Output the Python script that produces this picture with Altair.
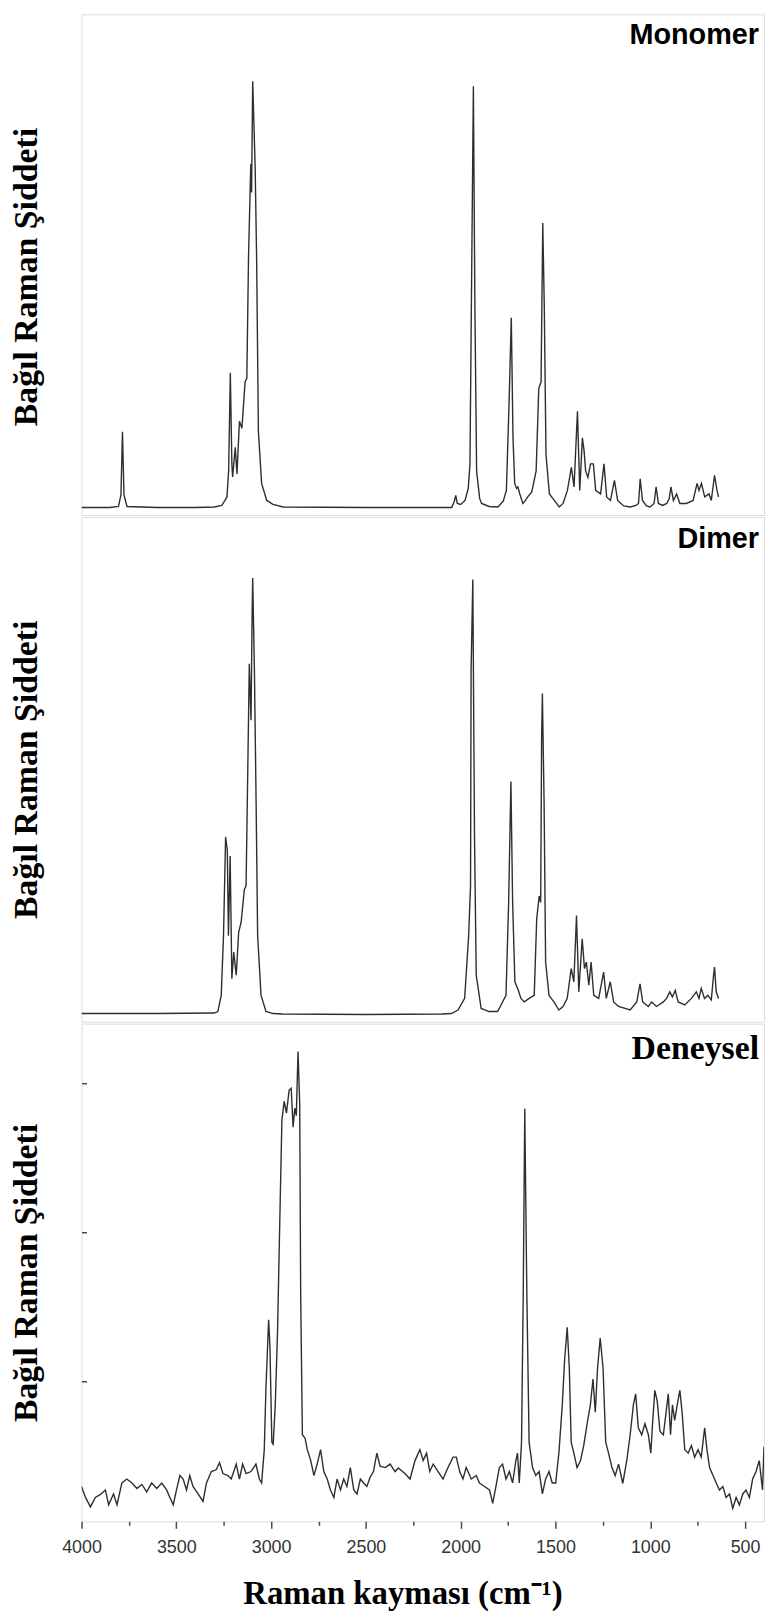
import altair as alt
import pandas as pd

# ---------------- data (wavenumber cm-1, relative intensity % of panel height) -------------
mono_x = [4000, 3850, 3805, 3792, 3784, 3776, 3760, 3600, 3400, 3300, 3260, 3245, 3233, 3224, 3215,
          3207, 3203, 3189, 3180, 3167, 3154, 3137, 3128, 3119, 3111, 3107, 3103, 3097, 3084, 3076,
          3067, 3050, 3023, 2990, 2937, 2500, 2100, 2047, 2033, 2026, 2018, 2000, 1977, 1960, 1951,
          1942, 1933, 1925, 1916, 1900, 1890, 1850, 1803, 1775, 1759, 1745, 1733, 1724, 1715, 1705,
          1698, 1689, 1672, 1660, 1646, 1625, 1602, 1588, 1576, 1567, 1559, 1550, 1532, 1506, 1480,
          1460, 1437, 1416, 1402, 1384, 1372, 1358, 1349, 1341, 1329, 1315, 1300, 1288, 1262, 1244,
          1230, 1210, 1189, 1172, 1140, 1105, 1075, 1062, 1053, 1041, 1020, 1001, 980, 969, 957,
          935, 913, 900, 891, 878, 861, 844, 809, 774, 753, 743, 730, 713, 690, 678, 661, 648, 640]
mono_y = [1.5, 1.5, 1.7, 4.0, 16.6, 4.0, 1.7, 1.5, 1.5, 1.6, 1.9, 2.8, 3.6, 8.8, 28.4,
          10.3, 7.6, 13.5, 8.2, 18.7, 17.3, 26.6, 27.3, 51.6, 64.2, 70.1, 64.4, 86.6, 69.4, 50.3,
          16.7, 6.3, 2.9, 2.1, 1.6, 1.5, 1.5, 1.5, 2.8, 3.9, 2.3, 2.1, 2.9, 5.3, 10.2,
          48.3, 85.6, 41.7, 8.8, 3.3, 2.3, 1.7, 1.6, 2.8, 4.9, 22.0, 39.4, 15.4, 6.3, 5.3,
          5.6, 4.3, 2.3, 2.8, 3.6, 4.6, 8.8, 25.3, 26.6, 58.3, 41.7, 12.1, 4.2, 2.9, 1.6,
          2.3, 4.9, 9.5, 5.6, 20.7, 4.9, 15.4, 12.8, 8.8, 7.5, 10.2, 10.2, 4.9, 4.2, 10.2,
          3.6, 2.9, 6.9, 2.9, 1.8, 1.6, 1.9, 2.3, 7.2, 2.9, 1.8, 1.6, 2.3, 5.6, 2.3,
          1.9, 2.3, 3.3, 5.6, 2.9, 4.2, 2.3, 2.3, 2.9, 6.3, 4.9, 6.3, 3.6, 4.2, 2.9, 7.9, 4.9, 3.6]

dim_x = [4000, 3600, 3300, 3281, 3263, 3251, 3240, 3231, 3225, 3216, 3207, 3197, 3184, 3171, 3158,
         3141, 3132, 3123, 3115, 3106, 3100, 3097, 3088, 3079, 3071, 3053, 3027, 2990, 2940, 2500,
         2100, 2049, 2014, 1979, 1958, 1948, 1945, 1936, 1927, 1918, 1892, 1850, 1805, 1761, 1747,
         1735, 1726, 1714, 1696, 1682, 1665, 1639, 1612, 1599, 1586, 1578, 1573, 1569, 1560, 1552,
         1534, 1508, 1482, 1460, 1438, 1417, 1403, 1389, 1377, 1359, 1347, 1337, 1324, 1312, 1298,
         1272, 1246, 1232, 1211, 1193, 1167, 1106, 1071, 1054, 1040, 1010, 993, 967, 931, 914,
         897, 883, 868, 853, 818, 783, 757, 743, 731, 714, 696, 678, 666, 661, 652, 640]
dim_y = [1.6, 1.6, 1.7, 2.0, 5.2, 17.0, 36.6, 34.0, 17.0, 32.8, 8.5, 13.8, 9.2, 17.7, 19.7,
         26.2, 26.9, 49.9, 70.9, 59.7, 80.7, 87.9, 69.6, 43.3, 17.0, 5.2, 2.0, 1.6, 1.5, 1.4,
         1.5, 1.6, 2.3, 4.6, 17.0, 26.9, 69.6, 87.6, 36.7, 9.2, 2.6, 2.0, 2.0, 5.2, 23.6,
         47.6, 23.6, 7.9, 6.2, 4.6, 3.9, 4.6, 5.2, 20.3, 24.9, 23.6, 56.4, 65.0, 43.3, 11.8,
         5.2, 3.9, 2.3, 3.0, 4.6, 10.5, 7.9, 21.0, 5.9, 16.4, 10.5, 11.8, 7.2, 11.8, 5.2,
         4.6, 9.8, 4.6, 7.9, 3.9, 3.0, 2.3, 3.9, 7.5, 3.9, 3.0, 3.9, 3.0, 3.9, 4.6,
         5.9, 4.9, 6.2, 3.9, 3.3, 4.6, 5.9, 4.6, 6.6, 4.6, 5.2, 4.3, 9.2, 10.8, 5.9, 4.6]

exp_x = [4000, 3979, 3953, 3927, 3900, 3874, 3857, 3831, 3813, 3787, 3761, 3734, 3708, 3682, 3656,
         3630, 3603, 3577, 3551, 3534, 3516, 3499, 3481, 3464, 3446, 3429, 3412, 3385, 3359, 3341,
         3315, 3289, 3272, 3254, 3228, 3210, 3184, 3167, 3150, 3132, 3106, 3080, 3062, 3050, 3036,
         3027, 3013, 3006, 2996, 2989, 2978, 2966, 2954, 2943, 2931, 2919, 2905, 2894, 2884, 2875,
         2867, 2858, 2849, 2844, 2835, 2821, 2809, 2791, 2774, 2757, 2739, 2722, 2704, 2687, 2669,
         2652, 2634, 2617, 2600, 2582, 2564, 2547, 2529, 2512, 2495, 2477, 2460, 2442, 2425, 2398,
         2372, 2346, 2329, 2294, 2267, 2241, 2215, 2198, 2180, 2163, 2145, 2119, 2093, 2067, 2040,
         2023, 2005, 1988, 1971, 1944, 1918, 1901, 1874, 1848, 1831, 1814, 1796, 1779, 1761, 1743,
         1726, 1709, 1700, 1691, 1679, 1670, 1662, 1651, 1639, 1621, 1604, 1586, 1569, 1552, 1534,
         1517, 1499, 1482, 1464, 1452, 1438, 1427, 1417, 1403, 1386, 1368, 1351, 1333, 1316, 1302,
         1290, 1278, 1264, 1249, 1235, 1220, 1202, 1185, 1167, 1145, 1124, 1106, 1089, 1077, 1063,
         1045, 1028, 1010, 997, 988, 976, 963, 949, 931, 919, 905, 893, 883, 871, 858,
         844, 832, 818, 800, 783, 766, 748, 731, 713, 701, 687, 669, 652, 635, 617,
         600, 582, 565, 547, 530, 512, 495, 477, 460, 442, 425, 408, 400]
exp_y = [7.0, 4.8, 2.9, 4.8, 5.4, 6.3, 3.3, 5.5, 3.3, 7.7, 8.5, 7.7, 6.6, 7.4, 5.9,
         7.7, 6.6, 7.7, 6.3, 4.8, 3.3, 6.3, 9.2, 8.5, 6.3, 9.2, 7.0, 5.5, 4.0, 7.7,
         10.0, 10.4, 11.8, 9.6, 9.2, 8.5, 11.5, 8.5, 11.5, 9.6, 10.0, 11.5, 8.5, 7.7, 14.4,
         27.0, 40.5, 35.0, 15.9, 15.5, 23.4, 38.2, 60.6, 80.6, 84.4, 82.0, 86.6, 87.0, 79.2, 83.0,
         81.5, 94.4, 83.8, 45.7, 17.4, 16.7, 14.4, 12.2, 9.2, 11.5, 14.4, 10.0, 8.5, 6.3, 4.8,
         8.5, 6.3, 8.5, 7.0, 10.8, 6.3, 5.5, 8.5, 7.7, 7.0, 8.9, 10.0, 13.7, 11.1, 10.8,
         11.5, 10.0, 10.7, 9.6, 8.5, 12.2, 14.4, 12.2, 13.7, 10.0, 11.5, 10.0, 8.5, 10.8, 12.9,
         12.9, 10.0, 8.5, 10.8, 8.5, 9.2, 7.7, 7.0, 6.3, 3.6, 7.0, 10.8, 11.5, 8.5, 10.0,
         7.7, 12.2, 13.7, 7.7, 15.9, 45.7, 82.9, 45.7, 15.9, 10.8, 9.2, 10.0, 5.5, 8.5, 10.0,
         7.7, 7.7, 13.7, 23.4, 32.3, 39.0, 30.8, 15.9, 13.7, 10.8, 12.2, 15.2, 19.6, 23.4, 28.6,
         21.9, 30.8, 36.8, 30.8, 15.9, 13.7, 10.8, 9.2, 11.5, 7.6, 12.2, 17.4, 23.4, 25.6, 18.8,
         17.4, 19.6, 17.4, 13.7, 19.6, 26.3, 24.1, 18.1, 17.4, 21.1, 25.6, 17.4, 23.4, 20.3, 23.4,
         26.3, 21.9, 14.4, 13.7, 15.2, 12.9, 14.4, 12.9, 18.8, 14.4, 10.8, 9.2, 7.7, 6.3, 7.0,
         4.8, 5.5, 2.6, 4.8, 3.3, 5.5, 6.3, 4.8, 8.5, 10.0, 12.2, 6.3, 15.0]

x_major = [4000, 3500, 3000, 2500, 2000, 1500, 1000, 500]
x_minor = [3750, 3250, 2750, 2250, 1750, 1250, 750]
exp_yticks = [28.2, 58.1, 88.0]

panel_names = ["Monomer", "Dimer", "Deneysel"]
y_title = "Bağıl Raman Şiddeti"
x_title = "Raman kayması (cm⁻¹)"

# ---------------- styling ----------------
W = 687
HEIGHTS = [504, 508, 501]
LINE_COLOR = "#2e2e2e"
FRAME = "#4a4a4a"
SERIF = "Liberation Serif"
SANS = "Liberation Sans"

xscale = alt.Scale(domain=[4000, 400], nice=False, zero=False)
yscale = alt.Scale(domain=[0, 100], nice=False, zero=False)


def y_axis(idx):
    kw = dict(title=y_title, labels=False, domain=False, grid=False,
              titleFont=SERIF, titleFontSize=34, titleFontWeight="bold",
              titleColor="black", titlePadding=38)
    if idx == 2:
        kw.update(ticks=True, values=exp_yticks, tickSize=5, offset=-5,
                  tickColor=FRAME, tickWidth=1.5)
    else:
        kw.update(ticks=False)
    if idx == 0:
        kw.update(titleY=HEIGHTS[0] / 2 + 12)
    return alt.Axis(**kw)


def x_axis():
    return alt.Axis(
        title=x_title, values=x_major + x_minor, format="d",
        labelExpr="datum.value % 500 === 0 ? datum.label : ''",
        labelFlush=False, grid=False, domain=False,
        tickColor=FRAME, tickWidth=1.5,
        tickSize={"condition": {"test": "datum.value % 500 === 0", "value": 7}, "value": 4},
        labelFont=SANS, labelFontSize=18, labelColor="#333333", labelPadding=10,
        titleFont=SERIF, titleFontSize=33, titleFontWeight="bold", titleColor="black",
        titleX=323, titleY=83, titleAlign="center", titleBaseline="alphabetic",
    )


def panel(xs, ys, name, idx):
    df = pd.DataFrame({"x": xs, "y": ys})
    last = idx == 2
    line = alt.Chart(df).mark_line(color=LINE_COLOR, strokeWidth=1.4, clip=True).encode(
        x=alt.X("x:Q", scale=xscale, axis=x_axis() if last else None),
        y=alt.Y("y:Q", scale=yscale, axis=y_axis(idx)),
    )
    if name == "Deneysel":
        lab = alt.Chart(pd.DataFrame({"t": [name]})).mark_text(
            align="right", baseline="alphabetic", font=SERIF, fontSize=34,
            fontWeight="bold", color="black").encode(
            text="t:N", x=alt.value(W - 5), y=alt.value(36))
    else:
        lab = alt.Chart(pd.DataFrame({"t": [name]})).mark_text(
            align="right", baseline="alphabetic", font=SANS, fontSize=29,
            fontWeight="bold", color="black").encode(
            text="t:N", x=alt.value(W - 5), y=alt.value(30 if idx == 0 else 31))
    return alt.layer(line, lab).properties(width=W, height=HEIGHTS[idx])


chart = alt.vconcat(
    panel(mono_x, mono_y, panel_names[0], 0),
    panel(dim_x, dim_y, panel_names[1], 1),
    panel(exp_x, exp_y, panel_names[2], 2),
    spacing=0,
).properties(padding=0).configure_view(
    stroke=FRAME, strokeWidth=2
).configure(background="white")

chart.save("out.html", embed_options={"renderer": "svg", "actions": False})
